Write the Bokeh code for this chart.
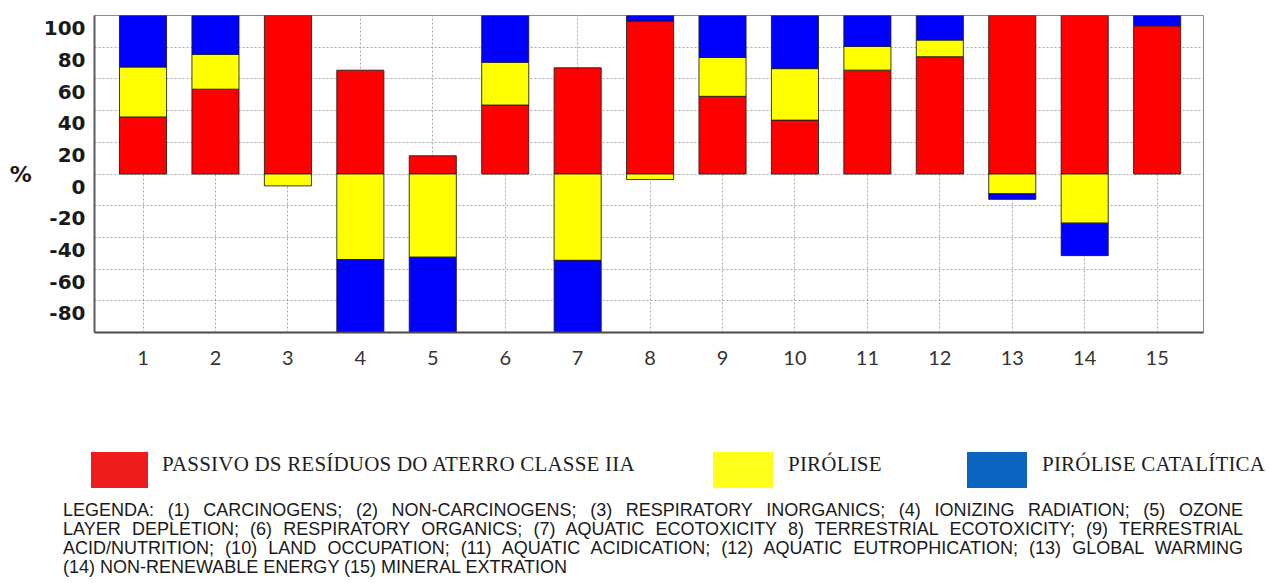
import numpy as np
from bokeh.plotting import figure
from bokeh.models import Range1d, FixedTicker, Div, ColumnDataSource
from bokeh.layouts import column
from bokeh.embed import file_html
from bokeh.resources import INLINE

# ---------------- data ----------------
categories = [str(i) for i in range(1, 16)]
passivo = [36, 53.5, 100, 65.5, 11.5, 43.5, 67, 96.5, 49, 34, 65.5, 74, 100, 100, 93.5]
pirolise = [31.5, 22, -7.5, -54, -52.5, 27, -54.5, -3.5, 24.5, 32.5, 15, 10.5, -12.5, -31, 0]
catalitica = [32.5, 24.5, 0, -46, -47.5, 29.5, -45.5, 3.5, 26.5, 33.5, 19.5, 15.5, -3.5, -20.5, 6.5]
series_names = ["PASSIVO DS RESÍDUOS DO ATERRO CLASSE IIA", "PIRÓLISE", "PIRÓLISE CATALÍTICA"]
y_tick_values = [100, 80, 60, 40, 20, 0, -20, -40, -60, -80]
legend_lines = [
    "LEGENDA: (1) CARCINOGENS; (2) NON-CARCINOGENS; (3) RESPIRATORY INORGANICS; (4) IONIZING RADIATION; (5) OZONE",
    "LAYER DEPLETION; (6) RESPIRATORY ORGANICS; (7) AQUATIC ECOTOXICITY 8) TERRESTRIAL ECOTOXICITY; (9) TERRESTRIAL",
    "ACID/NUTRITION; (10) LAND OCCUPATION; (11) AQUATIC ACIDICATION; (12) AQUATIC EUTROPHICATION; (13) GLOBAL WARMING",
    "(14) NON-RENEWABLE ENERGY (15) MINERAL EXTRATION",
]

# ---------------- styles ----------------
bar_colors = ["#ff0000", "#ffff00", "#0000ff"]
legend_colors = ["#ee1c1c", "#ffff1a", "#0a64c0"]
label_drop = 8  # y tick labels sit a little below their gridlines in the original

x = np.arange(1, len(categories) + 1)

p = figure(width=1254, height=440, x_range=Range1d(0.33, 15.64), y_range=Range1d(-100, 100),
           output_backend="svg", toolbar_location=None,
           min_border_left=94, min_border_right=51, min_border_top=15, min_border_bottom=108)
p.outline_line_color = "#8c8c8c"
p.outline_line_width = 1
p.background_fill_color = "white"
p.border_fill_color = "white"
p.margin = 0

# stacked bars (positive values stack upward, negative downward)
pos = np.zeros(len(x))
neg = np.zeros(len(x))
for vals, color in zip([passivo, pirolise, catalitica], bar_colors):
    v = np.array(vals, dtype=float)
    bottom = np.where(v >= 0, pos, neg)
    top = bottom + v
    pos = np.where(v >= 0, top, pos)
    neg = np.where(v < 0, top, neg)
    keep = v != 0
    src = ColumnDataSource(dict(x=x[keep], bottom=bottom[keep], top=top[keep]))
    p.vbar(x="x", bottom="bottom", top="top", width=0.65, source=src,
           fill_color=color, line_color="#1a1a1a", line_width=1, line_alpha=0.85)

# axes
p.xaxis.ticker = FixedTicker(ticks=[int(i) for i in x])
p.xaxis.major_label_overrides = {int(i): c for i, c in zip(x, categories)}
p.xaxis.axis_line_color = "#4a4a4a"
p.xaxis.axis_line_width = 2
p.xaxis.major_tick_line_color = None
p.xaxis.minor_tick_line_color = None
p.xaxis.major_label_text_font = "Lato"
p.xaxis.major_label_text_font_size = "20px"
p.xaxis.major_label_text_color = "#333333"
p.xaxis.major_label_standoff = 12

p.yaxis.ticker = FixedTicker(ticks=[v - label_drop for v in y_tick_values])
p.yaxis.major_label_overrides = {v - label_drop: str(v) for v in y_tick_values}
p.yaxis.axis_line_color = "#5a5a5a"
p.yaxis.axis_line_width = 2
p.yaxis.major_tick_line_color = None
p.yaxis.minor_tick_line_color = None
p.yaxis.major_label_text_font = "DejaVu Sans"
p.yaxis.major_label_text_font_style = "bold"
p.yaxis.major_label_text_font_size = "20px"
p.yaxis.major_label_text_color = "#1a1a1a"
p.yaxis.major_label_standoff = 3
p.yaxis.axis_label = "%"
p.yaxis.axis_label_orientation = "horizontal"
p.yaxis.axis_label_text_font = "DejaVu Sans"
p.yaxis.axis_label_text_font_style = "bold"
p.yaxis.axis_label_text_font_size = "22px"
p.yaxis.axis_label_text_color = "#1a1a1a"
p.yaxis.axis_label_standoff = 9

# grids
for g, ticks in ((p.xgrid, [int(i) for i in x]), (p.ygrid, y_tick_values)):
    g.ticker = FixedTicker(ticks=ticks)
    g.grid_line_color = "#a8a8a8"
    g.grid_line_dash = "2 2"
    g.grid_line_width = 1

# ---------------- legend row + caption (HTML below the plot) ----------------
swatch_left = [91, 713, 967]
swatch_width = [57, 60, 60]
text_left = [162, 788, 1042]
legend_html = ""
for name, col, sl, sw, tl in zip(series_names, legend_colors, swatch_left, swatch_width, text_left):
    legend_html += (f'<div style="position:absolute;left:{sl}px;top:12px;width:{sw}px;height:36px;'
                    f'background:{col};"></div>'
                    f'<div style="position:absolute;left:{tl}px;top:14px;white-space:nowrap;'
                    f'font-family:\'Liberation Serif\';font-size:21px;line-height:21px;'
                    f'letter-spacing:0.2px;color:#1e1e1e;">{name}</div>')

line_html = []
for i, ln in enumerate(legend_lines):
    last = i == len(legend_lines) - 1
    align = "left" if last else "justify"
    line_html.append(
        f'<div style="text-align:{align};text-align-last:{align};">{ln}</div>')
caption_html = ('<div style="position:absolute;left:63px;top:61px;width:1180px;'
                'font-family:\'Liberation Sans\';font-size:18px;line-height:19px;color:#1a1a1a;">'
                + "".join(line_html) + '</div>')
html = ('<div style="position:relative;width:1254px;height:143px;">'
        + legend_html + caption_html + '</div>')
div = Div(text=html, width=1254, height=143, margin=0)

layout = column(p, div, spacing=0)
open("out.html", "w").write(file_html(layout, INLINE))
